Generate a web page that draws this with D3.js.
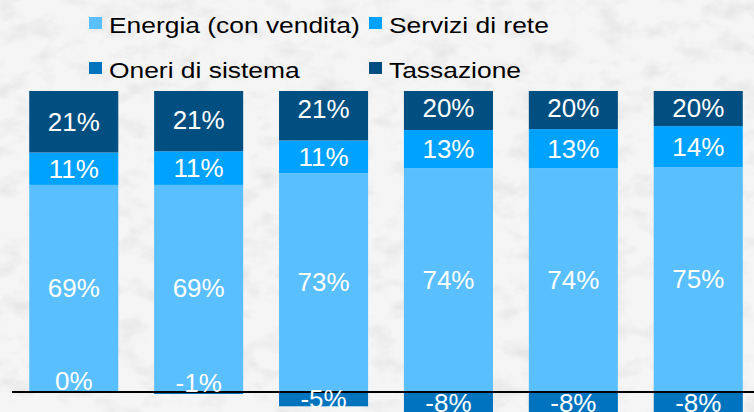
<!DOCTYPE html>
<html>
<head>
<meta charset="utf-8">
<script src="https://cdn.jsdelivr.net/npm/d3@7"></script>
<style>
  body { margin: 0; background: #f4f4f4; }
  svg { display: block; }
  .lbl { fill: #fff; font-family: "Liberation Sans", Arial, sans-serif; font-size: 26px; }
  .leg { fill: #000; font-family: "Liberation Sans", Arial, sans-serif; font-size: 22px; }
</style>
</head>
<body>
<div id="chart"></div>
<script>
// columns (no axis labels are shown in the picture)
const columns = ["c1", "c2", "c3", "c4", "c5", "c6"];

// shares in %
const energia = [68.7, 68.7, 72.6, 74.3, 74.3, 74.6];
const servizi = [10.8, 11.2, 10.9, 12.7, 13.0, 13.7];
const oneri = [0, -1, -5.1, -8, -8, -8];
const tassazione = [20.6, 20.8, 21, 20, 20, 20];

const seriesNames = ["Energia (con vendita)", "Servizi di rete", "Oneri di sistema", "Tassazione"];
const seriesKeys = ["energia", "servizi", "oneri", "tassazione"];
const colors = ["#59bfff", "#00a2ff", "#0073bf", "#004f80"];

const yDomain = [0, 100];

const width = 754, height = 412;

const rows = columns.map((c, i) => ({
  col: c,
  energia: energia[i],
  servizi: servizi[i],
  oneri: oneri[i],
  tassazione: tassazione[i]
}));

const svg = d3.select("#chart").append("svg")
  .attr("width", width)
  .attr("height", height);

// paper-like background
const defs = svg.append("defs");
const f = defs.append("filter").attr("id", "paper")
  .attr("x", 0).attr("y", 0).attr("width", "100%").attr("height", "100%");
f.append("feTurbulence")
  .attr("type", "fractalNoise")
  .attr("baseFrequency", "0.035 0.05")
  .attr("numOctaves", 5)
  .attr("seed", 11);
f.append("feColorMatrix")
  .attr("type", "matrix")
  .attr("values", "0 0 0 0 0.55  0 0 0 0 0.55  0 0 0 0 0.55  1.8 0 0 0 -0.85");

svg.append("rect").attr("width", width).attr("height", height).attr("fill", "#f5f5f5");
svg.append("rect").attr("width", width).attr("height", height)
  .attr("filter", "url(#paper)").attr("opacity", 0.4);

const x = d3.scaleBand()
  .domain(columns)
  .range([11.3, 760.7])
  .paddingInner(0.287)
  .paddingOuter(0.1435);

const y = d3.scaleLinear()
  .domain(yDomain)
  .range([391, 91]);

defs.append("clipPath").attr("id", "plot")
  .append("rect")
  .attr("x", 0).attr("y", y(100))
  .attr("width", width).attr("height", height - y(100));

const stack = d3.stack()
  .keys(seriesKeys)
  .offset(d3.stackOffsetDiverging);
const stacked = stack(rows);

const g = svg.append("g").attr("clip-path", "url(#plot)");

g.selectAll("g.series")
  .data(stacked)
  .join("g")
  .attr("class", "series")
  .attr("fill", (d, i) => colors[i])
  .selectAll("rect")
  .data(d => d)
  .join("rect")
  .attr("x", d => x(d.data.col))
  .attr("width", x.bandwidth())
  .attr("y", d => y(d[1]))
  .attr("height", d => y(d[0]) - y(d[1]));

// zero line
svg.append("line")
  .attr("x1", 12).attr("x2", width)
  .attr("y1", y(0) + 1).attr("y2", y(0) + 1)
  .attr("stroke", "#000")
  .attr("stroke-width", 2.2);

// data labels, kept inside the top of the plot area
const labels = svg.append("g");
stacked.forEach(s => {
  s.forEach(d => {
    const v = d.data[s.key];
    let cy = (y(d[0]) + y(d[1])) / 2;
    cy = Math.max(cy, y(100) + 17);
    if (Math.abs(y(d[0]) - y(d[1])) < 10) cy -= 10;
    labels.append("text")
      .attr("class", "lbl")
      .attr("x", x(d.data.col) + x.bandwidth() / 2)
      .attr("y", cy + 9.3)
      .attr("text-anchor", "middle")
      .text(Math.round(v) + "%");
  });
});

// legend, two columns by two rows
const legPos = [[89, 23], [369, 23], [89, 68], [369, 68]];
const leg = svg.append("g");
seriesNames.forEach((name, i) => {
  const [lx, ly] = legPos[i];
  leg.append("rect")
    .attr("x", lx).attr("y", ly - 6)
    .attr("width", 13).attr("height", 12)
    .attr("fill", colors[i]);
  leg.append("text")
    .attr("class", "leg")
    .attr("transform", `translate(${lx + 20},${ly + 10}) scale(1.2,1)`)
    .text(name);
});
</script>
</body>
</html>
